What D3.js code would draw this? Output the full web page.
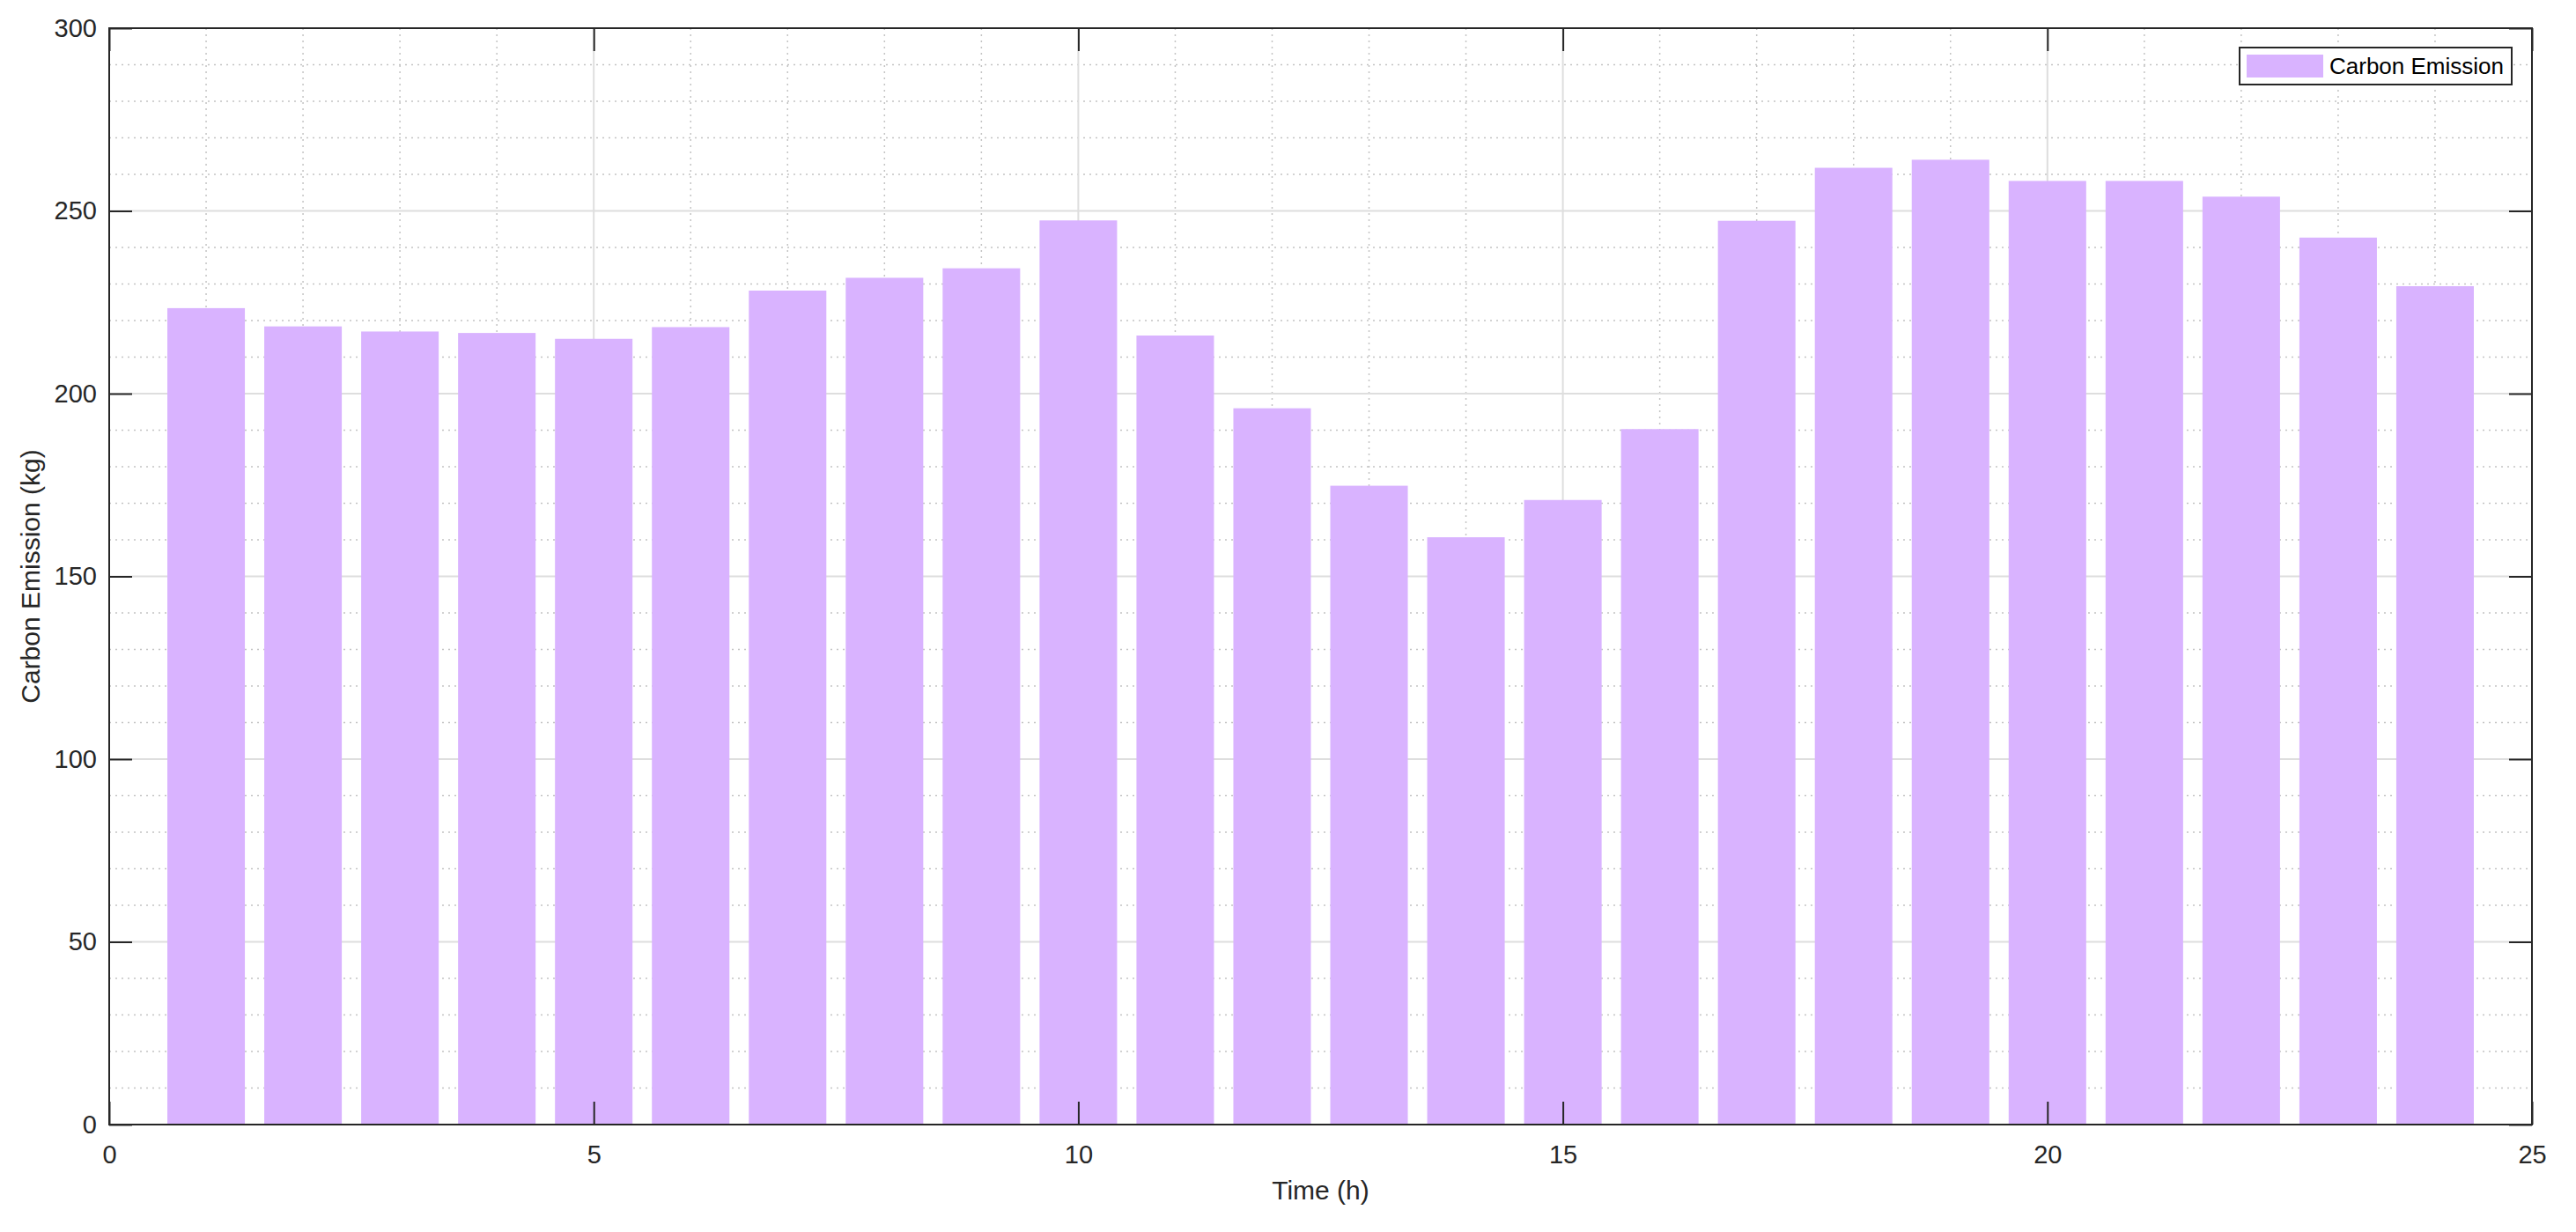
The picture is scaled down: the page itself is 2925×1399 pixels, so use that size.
<!DOCTYPE html>
<html>
<head>
<meta charset="utf-8">
<script src="https://cdn.jsdelivr.net/npm/d3@7"></script>
<style>
  body { margin: 0; background: #fff; }
  svg { display: block; font-family: "Liberation Sans", Arial, Helvetica, sans-serif; }
</style>
</head>
<body>
<svg id="chart" width="2925" height="1399"></svg>
<script>
// Dữ liệu: giờ trong ngày và lượng phát thải
const hours = [1, 2, 3, 4, 5, 6, 7, 8, 9, 10, 11, 12, 13, 14, 15, 16, 17, 18, 19, 20, 21, 22, 23, 24];
const emission = [223.4, 218.4, 217.0, 216.6, 215.0, 218.2, 228.2, 231.7, 234.3, 247.4, 215.9, 196.0,
                  174.8, 160.7, 170.9, 190.3, 247.3, 261.8, 264.0, 258.2, 258.2, 253.9, 242.7, 229.4];
const xTickValues = [0, 5, 10, 15, 20, 25];
const yTickValues = [0, 50, 100, 150, 200, 250, 300];
const seriesName = "Carbon Emission";
const xTitle = "Time (h)";
const yTitle = "Carbon Emission (kg)";

const data = hours.map((h, i) => ({hour: h, value: emission[i]}));

const svg = d3.select("#chart");
const plot = {left: 124, right: 2875, top: 32, bottom: 1277};
const axisColor = "#262626";
const barColor = "#d9b3ff";

const x = d3.scaleLinear().domain([0, 25]).range([plot.left, plot.right]);
const y = d3.scaleLinear().domain([0, 300]).range([plot.bottom, plot.top]);

// Lưới phụ (chấm)
const minorX = d3.range(1, 25).filter(v => v % 5 !== 0);
const minorY = d3.range(10, 300, 10).filter(v => v % 50 !== 0);
const grid = svg.append("g");
grid.selectAll("line.mx").data(minorX).enter().append("line")
  .attr("x1", d => x(d)).attr("x2", d => x(d))
  .attr("y1", plot.top).attr("y2", plot.bottom)
  .attr("stroke", "#c4c4c4").attr("stroke-width", 1.5)
  .attr("stroke-dasharray", "2,5");
grid.selectAll("line.my").data(minorY).enter().append("line")
  .attr("y1", d => y(d)).attr("y2", d => y(d))
  .attr("x1", plot.left).attr("x2", plot.right)
  .attr("stroke", "#c4c4c4").attr("stroke-width", 1.5)
  .attr("stroke-dasharray", "2,5");

// Lưới chính
grid.selectAll("line.MX").data(xTickValues.slice(1, -1)).enter().append("line")
  .attr("x1", d => x(d)).attr("x2", d => x(d))
  .attr("y1", plot.top).attr("y2", plot.bottom)
  .attr("stroke", "#dedede").attr("stroke-width", 2);
grid.selectAll("line.MY").data(yTickValues.slice(1, -1)).enter().append("line")
  .attr("y1", d => y(d)).attr("y2", d => y(d))
  .attr("x1", plot.left).attr("x2", plot.right)
  .attr("stroke", "#dedede").attr("stroke-width", 2);

// Vẽ cột
svg.append("g").selectAll("rect")
  .data(data)
  .enter().append("rect")
    .attr("x", d => x(d.hour - 0.4))
    .attr("width", d => x(d.hour + 0.4) - x(d.hour - 0.4))
    .attr("y", d => y(d.value))
    .attr("height", d => y(0) - y(d.value))
    .attr("fill", barColor);

// Trục
function styleAxis(g) {
  g.select(".domain").remove();
  g.selectAll(".tick line").attr("stroke", axisColor).attr("stroke-width", 2);
  g.selectAll(".tick text").attr("fill", axisColor).style("font-size", "29px");
}
svg.append("g")
  .attr("transform", `translate(0,${plot.bottom})`)
  .call(d3.axisBottom(x).tickValues(xTickValues).tickSize(-26).tickPadding(23))
  .call(styleAxis);
svg.append("g")
  .attr("transform", `translate(0,${plot.top})`)
  .call(d3.axisTop(x).tickValues(xTickValues).tickSize(-26).tickFormat(""))
  .call(styleAxis);
svg.append("g")
  .attr("transform", `translate(${plot.left},0)`)
  .call(d3.axisLeft(y).tickValues(yTickValues).tickSize(-26).tickPadding(14))
  .call(styleAxis);
svg.append("g")
  .attr("transform", `translate(${plot.right},0)`)
  .call(d3.axisRight(y).tickValues(yTickValues).tickSize(-26).tickFormat(""))
  .call(styleAxis);

// Khung
svg.append("rect")
  .attr("x", plot.left).attr("y", plot.top)
  .attr("width", plot.right - plot.left).attr("height", plot.bottom - plot.top)
  .attr("fill", "none").attr("stroke", axisColor).attr("stroke-width", 2);

// Tiêu đề trục
svg.append("text")
  .attr("x", (plot.left + plot.right) / 2)
  .attr("y", 1362)
  .attr("text-anchor", "middle")
  .attr("fill", axisColor)
  .style("font-size", "30px")
  .text(xTitle);
svg.append("text")
  .attr("transform", `translate(45,${(plot.top + plot.bottom) / 2}) rotate(-90)`)
  .attr("text-anchor", "middle")
  .attr("fill", axisColor)
  .style("font-size", "30px")
  .text(yTitle);

// Chú thích
const legend = svg.append("g").attr("transform", "translate(2543,54)");
legend.append("rect")
  .attr("width", 309).attr("height", 42)
  .attr("fill", "#fff").attr("stroke", axisColor).attr("stroke-width", 2);
legend.append("rect")
  .attr("x", 8).attr("y", 8).attr("width", 87).attr("height", 26)
  .attr("fill", barColor);
legend.append("text")
  .attr("x", 102).attr("y", 30)
  .attr("fill", "#000")
  .style("font-size", "26px")
  .text(seriesName);
</script>
</body>
</html>
